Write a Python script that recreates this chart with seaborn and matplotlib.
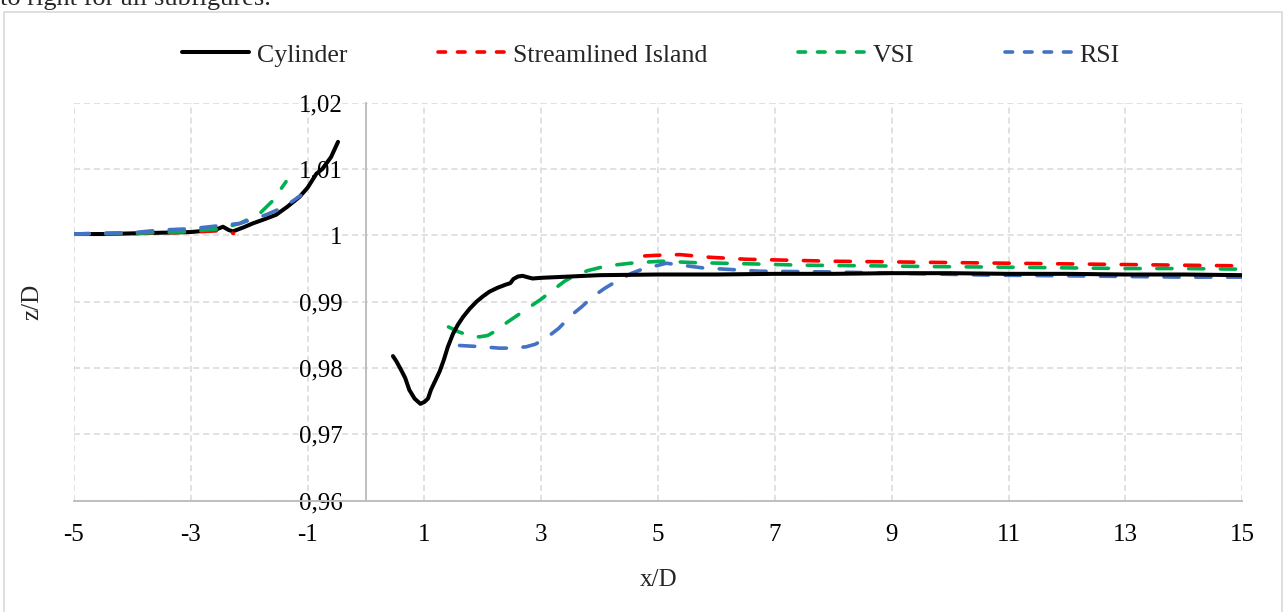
import numpy as np
import matplotlib
matplotlib.use("Agg")
import matplotlib.pyplot as plt
import matplotlib.lines as mlines
import matplotlib.patches as mpatches
import seaborn as sns

sns.set_style("white")
plt.rcParams['font.family'] = ['Liberation Serif', 'DejaVu Serif']
plt.rcParams['axes.unicode_minus'] = False
plt.rcParams.update({'font.size': 18})

# ---- data ----
cyl_left_x = [-5, -4.5, -4, -3.5, -3, -2.75, -2.56, -2.45, -2.35, -2.28, -2.1, -1.94, -1.75,
              -1.54, -1.35, -1.14, -1.0, -0.85, -0.75, -0.6, -0.48]
cyl_left_z = [1.0002, 1.0002, 1.0003, 1.0004, 1.0005, 1.0007, 1.0009, 1.0013, 1.0008, 1.0006,
              1.0012, 1.0018, 1.0024, 1.0031, 1.0043, 1.0058, 1.0072, 1.0093, 1.0100, 1.0118, 1.0141]
cyl_right_x = [0.46, 0.52, 0.6, 0.67, 0.74, 0.83, 0.93, 1.0, 1.06, 1.11, 1.18, 1.26, 1.33, 1.4,
               1.49, 1.57, 1.66, 1.77, 1.89, 2.0, 2.11, 2.25, 2.4, 2.47, 2.52, 2.6, 2.68, 2.76,
               2.85, 3.0, 3.5, 4.0, 5.0, 6.0, 7.0, 8.0, 9.0, 10.0, 11.0, 12.0, 13.0, 14.0, 15.0]
cyl_right_z = [0.9818, 0.9810, 0.9797, 0.9785, 0.9767, 0.9754, 0.9746, 0.9749, 0.9754, 0.9767,
               0.9780, 0.9795, 0.9812, 0.9832, 0.9852, 0.9865, 0.9877, 0.9889, 0.9900, 0.9908,
               0.9915, 0.9921, 0.9926, 0.9928, 0.9934, 0.9938, 0.9939, 0.9937, 0.9935, 0.9936,
               0.9938, 0.9940, 0.9941, 0.9941, 0.9942, 0.9942, 0.9943, 0.9943, 0.9942, 0.9942,
               0.9941, 0.9941, 0.9940]

si_left_x = [-5, -4, -3, -2.5, -2.27]
si_left_z = [1.0002, 1.0003, 1.0005, 1.0007, 1.0003]
si_right_x = [4.77, 5.0, 5.37, 5.88, 6.5, 7.0, 8.0, 9.0, 10.0, 11.0, 12.0, 13.0, 14.0, 15.0]
si_right_z = [0.9969, 0.9970, 0.9971, 0.9967, 0.9964, 0.9963, 0.9961, 0.9960, 0.9959, 0.9958,
              0.9957, 0.9956, 0.9955, 0.9954]

vsi_left_x = [-5, -4, -3, -2.5, -2.16, -1.82, -1.6, -1.37]
vsi_left_z = [1.0002, 1.0003, 1.0006, 1.0010, 1.0018, 1.0033, 1.0052, 1.0081]
vsi_right_x = [1.41, 1.6, 1.78, 1.94, 2.08, 2.2, 2.4, 2.6, 2.8, 3.0, 3.19, 3.4, 3.6, 3.8, 4.12,
               4.63, 5.08, 5.59, 6.61, 7.5, 8.73, 9.59, 11, 12, 13, 14, 15]
vsi_right_z = [0.9862, 0.9854, 0.9849, 0.9847, 0.9849, 0.9855, 0.9868, 0.9880, 0.9892, 0.9904,
               0.9917, 0.9931, 0.9941, 0.9947, 0.9954, 0.9959, 0.9961, 0.9959, 0.9957, 0.9955,
               0.9954, 0.9953, 0.9952, 0.9951, 0.9950, 0.9950, 0.9949]

rsi_left_x = [-5, -4.7, -4, -3.53, -3, -2.68, -2.16, -1.71, -1.4, -1.12]
rsi_left_z = [1.0002, 1.0003, 1.0004, 1.0008, 1.0010, 1.0013, 1.0018, 1.0031, 1.0043, 1.0060]
rsi_right_x = [1.6, 1.8, 2.0, 2.28, 2.5, 2.74, 2.9, 3.08, 3.3, 3.52, 3.7, 3.87, 4.1, 4.33, 4.55,
               4.73, 5.14, 5.76, 6.73, 7.87, 9, 10.72, 12, 13, 14, 14.72, 15]
rsi_right_z = [0.9834, 0.9833, 0.9832, 0.9830, 0.9830, 0.9832, 0.9836, 0.9845, 0.9860, 0.9880,
               0.9893, 0.9907, 0.9921, 0.9933, 0.9943, 0.9949, 0.9958, 0.9951, 0.9946, 0.9945,
               0.9943, 0.9940, 0.9939, 0.9938, 0.9937, 0.9937, 0.9937]

names = ["Cylinder", "Streamlined Island", "VSI", "RSI"]
x_ticks = [-5, -3, -1, 1, 3, 5, 7, 9, 11, 13, 15]
y_ticks = [0.96, 0.97, 0.98, 0.99, 1.0, 1.01, 1.02]
y_ticklabels = ["0,96", "0,97", "0,98", "0,99", "1", "1,01", "1,02"]

colors = ["#000000", "#FF0000", "#00B050", "#4472C4"]
dash = (0, (4.2, 4.6))

fig = plt.figure(figsize=(12.83, 6.12), dpi=100)
W, H = 1283., 612.
ax = fig.add_axes([74/W, 1-500.7/H, (1242.3-74)/W, (500.7-102.7)/H])

segments = [
    (cyl_left_x, cyl_left_z, 0, 3),
    (si_left_x, si_left_z, 1, 4), (vsi_left_x, vsi_left_z, 2, 4), (rsi_left_x, rsi_left_z, 3, 5),
    (si_right_x, si_right_z, 1, 4), (vsi_right_x, vsi_right_z, 2, 4), (rsi_right_x, rsi_right_z, 3, 4),
    (cyl_right_x, cyl_right_z, 0, 6),
]
for xs, zs, k, z in segments:
    if k == 0:
        sns.lineplot(x=xs, y=zs, ax=ax, color=colors[k], linewidth=2.9, estimator=None,
                     solid_capstyle="round", solid_joinstyle="round", zorder=z)
    else:
        sns.lineplot(x=xs, y=zs, ax=ax, color=colors[k], linewidth=2.6, estimator=None,
                     linestyle=dash, dash_capstyle="round", zorder=z)

ax.set_xlim(-5, 15)
ax.set_ylim(0.96, 1.02)
ax.set_xticks(x_ticks)
ax.set_xticklabels([str(t) for t in x_ticks])
ax.set_yticks(y_ticks)
ax.set_yticklabels(y_ticklabels)
ax.grid(True, color="#D9D9D9", linestyle=(0, (4, 2.5)), linewidth=1.1)
ax.set_axisbelow(True)
for s in ["top", "right"]:
    ax.spines[s].set_visible(False)
ax.spines["left"].set_position(("data", 0))
for s in ["left", "bottom"]:
    ax.spines[s].set_color("#BFBFBF")
    ax.spines[s].set_linewidth(1.4)
ax.tick_params(axis="both", length=0, labelsize=18, colors="black")
ax.tick_params(axis="y", pad=17)
ax.tick_params(axis="x", pad=17)

ax.set_xlabel("x/D", fontsize=18)
ax.set_ylabel("z/D", fontsize=18)
ax.xaxis.set_label_coords(0.5, -0.172)
ax.yaxis.set_label_coords(-0.026, 0.5)

handles = [mlines.Line2D([], [], color=colors[0], lw=2.9)]
for c in colors[1:]:
    handles.append(mlines.Line2D([], [], color=c, lw=2.6, linestyle=(0, (2.1, 3.3)),
                                 dash_capstyle="round"))
fig.legend(handles, names, loc="center", bbox_to_anchor=(651/W, 1-55/H), ncol=4,
           frameon=False, fontsize=18.6, handlelength=2.6, handletextpad=0.3, columnspacing=3.5)

# outer chart border and the caption text cut off above it
fig.patches.append(mpatches.Rectangle((4/W, -0.02), 1-5/W, 1-12/H+0.02, transform=fig.transFigure,
                                      fill=False, edgecolor="#D9D9D9", linewidth=1.2))
fig.text(0.0, 1-5/H, "to right for all subfigures.", fontsize=19, va="baseline", ha="left")

fig.savefig("out.png", dpi=100)
